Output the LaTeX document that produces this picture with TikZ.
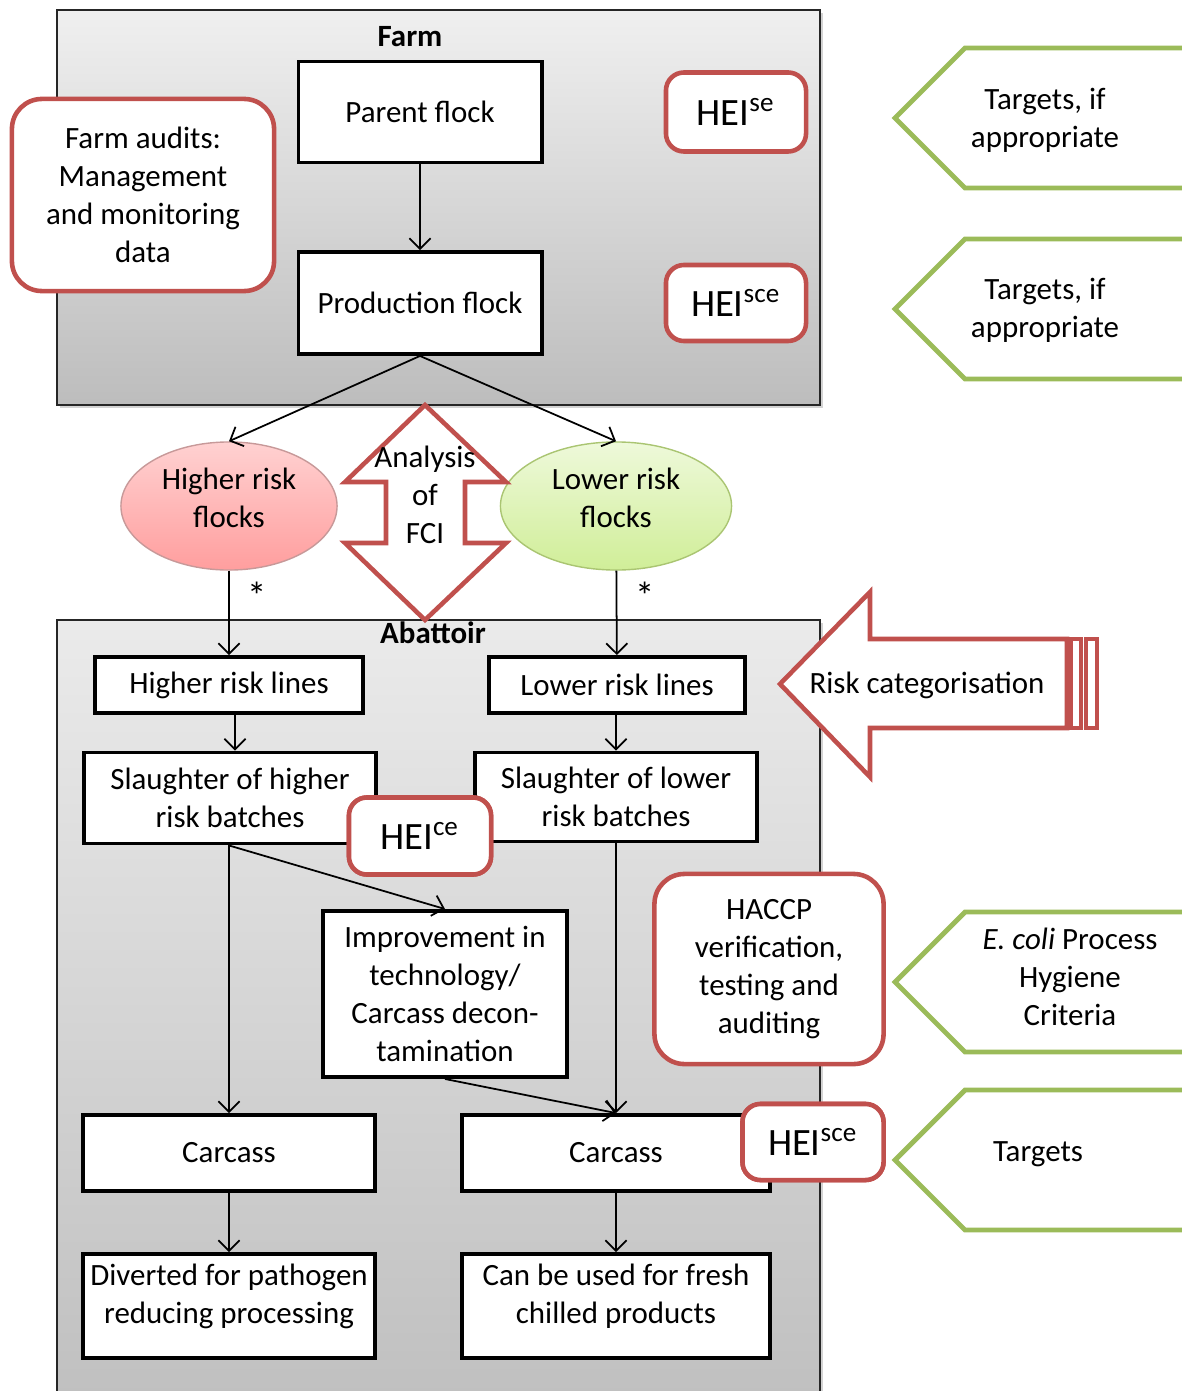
\documentclass[tikz,border=0pt]{standalone}
\usepackage{fontspec}
\setmainfont{Carlito}
\usepackage{xcolor}
\usetikzlibrary{arrows.meta, positioning, shadows, shapes.geometric}
\definecolor{auditred}{HTML}{C0504D}
\definecolor{targetgreen}{HTML}{9BBB59}
\definecolor{lowtop}{RGB}{238,249,218}
\definecolor{lowbottom}{RGB}{208,238,152}
\newcommand{\boxtext}{\fontsize{8.8}{10.8}\selectfont}
\newcommand{\heitext}{\fontsize{11}{13}\selectfont}

\begin{document}
\begin{tikzpicture}[>={Straight Barb[length=3pt,width=6pt]}, x=0.01cm, y=-0.01cm, font=\boxtext]
		\tikzset{
			zone/.style={draw=black!85, line width=0.6pt, top color=black!6, bottom color=black!26,
				drop shadow={shadow xshift=0.8pt, shadow yshift=-0.8pt, opacity=0.35}},
			block/.style={draw, line width=1.1pt, fill=white, align=center, inner sep=1pt},
			redbox/.style={draw=auditred, line width=1.3pt, fill=white, rounded corners=0.3cm, align=center},
			hei/.style={redbox, rounded corners=0.18cm, font=\heitext},
			flock/.style={ellipse, draw, line width=0.4pt, align=center, inner sep=0pt, text depth=0.17cm},
			target/.style={draw=targetgreen, line width=1.4pt, fill=white},
			bigarrow/.style={draw=auditred, line width=1.3pt, fill=white},
			conn/.style={->, line width=0.5pt},
		}
		\useasboundingbox (0,0) rectangle (1182,1391);

		%grey backgrounds
		\draw[zone] (57,10) rectangle (820,405);
		\draw[zone, top color=black!8, bottom color=black!25] (57,620) rectangle (820,1410);
		\node (farm) at (410,37) {\textbf{Farm}};

		%farm nodes
		\node (parent) [block, minimum width=2.43cm, minimum height=1.01cm] at (420,112) {Parent flock};
		\node (prod) [block, minimum width=2.43cm, minimum height=1.02cm] at (420,303) {Production flock};
		\node (audits) [redbox, minimum width=2.62cm, minimum height=1.92cm] at (143,195)
					{Farm audits:\\ Management\\ and monitoring\\ data};
		\node (heise) [hei, minimum width=1.40cm, minimum height=0.79cm] at (736,112) {HEI\textsuperscript{se}};
		\node (heisce) [hei, minimum width=1.40cm, minimum height=0.76cm] at (736,303) {HEI\textsuperscript{sce}};

		%flocks
		\node (hiflock) [flock, draw=red!45!black!40, top color=red!18, bottom color=red!38,
					minimum width=2.16cm, minimum height=1.28cm] at (229,506) {Higher risk\\ flocks};
		\node (loflock) [flock, draw=targetgreen!85, top color=lowtop, bottom color=lowbottom,
					minimum width=2.31cm, minimum height=1.28cm] at (616,506) {Lower risk\\ flocks};

		%analysis of FCI
		\draw[bigarrow] (425,405) -- (506,482) -- (465,482) -- (465,543) -- (506,543) -- (425,620)
					-- (345,543) -- (386,543) -- (386,482) -- (345,482) -- cycle;
		\node (fci) [align=center] at (425,495) {Analysis\\ of\\ FCI};
		\node (abattoir) at (433,633) {\textbf{Abattoir}};

		%abattoir nodes
		\node (hilines) [block, minimum width=2.68cm, minimum height=0.56cm] at (229,685) {Higher risk lines};
		\node (lolines) [block, minimum width=2.55cm, minimum height=0.56cm] at (617,685) {Lower risk lines};
		\node (slhi) [block, minimum width=2.92cm, minimum height=0.91cm] at (230,798)
					{Slaughter of higher\\ risk batches};
		\node (sllo) [block, minimum width=2.81cm, minimum height=0.89cm] at (616,797)
					{Slaughter of lower\\ risk batches};
		\node (heice) [hei, minimum width=1.42cm, minimum height=0.77cm] at (420,836) {HEI\textsuperscript{ce}};
		\node (improve) [block, minimum width=2.44cm, minimum height=1.66cm] at (445,994)
					{Improvement in\\ technology/\\ Carcass decon-\\ tamination};
		\node (haccp) [redbox, minimum width=2.29cm, minimum height=1.90cm] at (769,969)
					{HACCP\\ verification,\\ testing and\\ auditing};
		\node (carcl) [block, minimum width=2.91cm, minimum height=0.76cm] at (229,1153) {Carcass};
		\node (carcr) [block, minimum width=3.07cm, minimum height=0.76cm] at (616,1153) {Carcass};
		\node (heisce2) [hei, minimum width=1.41cm, minimum height=0.76cm] at (813,1142) {HEI\textsuperscript{sce}};
		\node (divert) [block, text depth=0.25cm, minimum width=2.91cm, minimum height=1.04cm] at (229,1306)
					{Diverted for pathogen\\ reducing processing};
		\node (fresh) [block, text depth=0.25cm, minimum width=3.07cm, minimum height=1.04cm] at (616,1306)
					{Can be used for fresh\\ chilled products};

		%risk categorisation
		\draw[bigarrow] (780,684) -- (870,592) -- (870,639) -- (1067,639) -- (1067,728)
					-- (870,728) -- (870,777) -- cycle;
		\draw[bigarrow] (1071,639) rectangle (1081,728);
		\draw[bigarrow] (1086,639) rectangle (1097,728);
		\node (riskcat) at (927,685) {Risk categorisation};

		%targets
		\draw[target] (1190,48) -- (965,48) -- (895,118) -- (965,188) -- (1190,188);
		\node (tgt1) [align=center] at (1045,120) {Targets, if\\ appropriate};
		\draw[target] (1190,239) -- (965,239) -- (895,309) -- (965,379) -- (1190,379);
		\node (tgt2) [align=center] at (1045,310) {Targets, if\\ appropriate};
		\draw[target] (1190,912) -- (965,912) -- (895,982) -- (965,1052) -- (1190,1052);
		\node (tgt3) [align=center] at (1070,977) {\textit{E. coli} Process\\ Hygiene\\ Criteria};
		\draw[target] (1190,1090) -- (965,1090) -- (895,1160) -- (965,1230) -- (1190,1230);
		\node (tgt4) at (1038,1154) {Targets};

		%connectors
		\draw[conn] (parent) -- (prod);
		\draw[conn] (prod.south) -- (hiflock.north);
		\draw[conn] (prod.south) -- (loflock.north);
		\draw[conn] (hiflock) -- node[pos=0.3, right=0.06cm, font=\heitext] {*} (hilines);
		\draw[conn] (loflock) -- node[pos=0.3, right=0.06cm, font=\heitext] {*} (lolines);
		\draw[conn] (hilines.south -| 235,0) -- (slhi.north -| 235,0);
		\draw[conn] (lolines.south -| sllo) -- (sllo);
		\draw[conn] (slhi.south -| carcl) -- (carcl);
		\draw[conn] (slhi.south -| carcl) -- (improve.north);
		\draw[conn] (sllo) -- (carcr);
		\draw[conn] (improve.south) -- (carcr.north);
		\draw[conn] (carcl) -- (divert);
		\draw[conn] (carcr) -- (fresh);

		%boxes drawn over the lines
		\node [hei, minimum width=1.42cm, minimum height=0.77cm] at (heice) {HEI\textsuperscript{ce}};
		\node [hei, minimum width=1.41cm, minimum height=0.76cm] at (heisce2) {HEI\textsuperscript{sce}};
\end{tikzpicture}
\end{document}
